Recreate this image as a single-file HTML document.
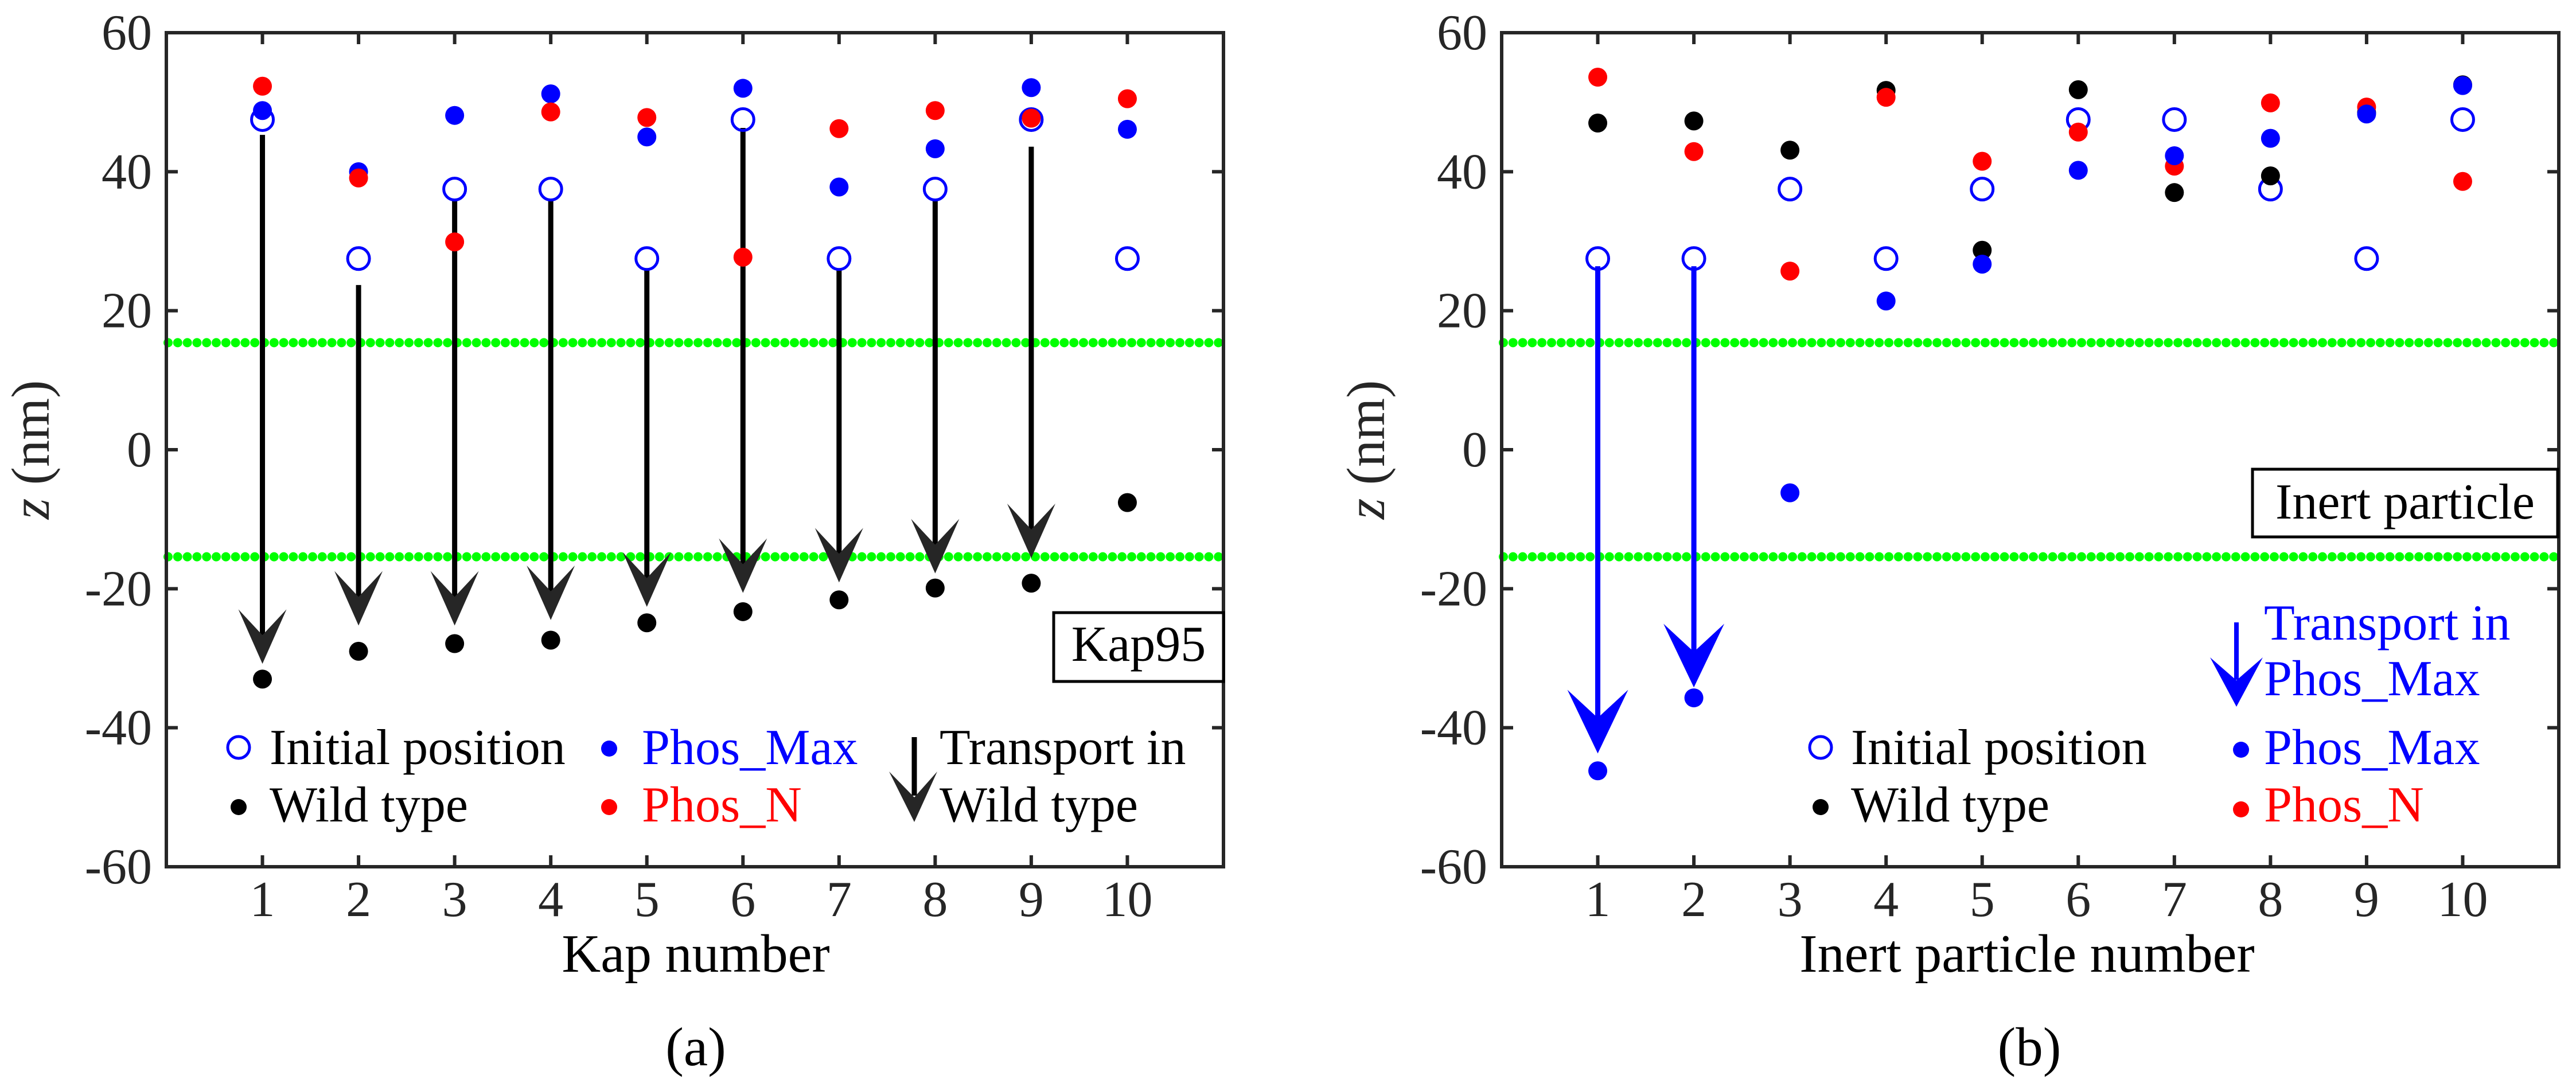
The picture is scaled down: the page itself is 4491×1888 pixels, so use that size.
<!DOCTYPE html>
<html><head><meta charset="utf-8"><style>
html,body{margin:0;padding:0;background:#fff;}
svg{display:block;}
svg text{font-family:"Liberation Serif","DejaVu Serif",serif;}
</style></head><body>
<svg id="fig" width="4491" height="1888" viewBox="0 0 4491 1888" xmlns="http://www.w3.org/2000/svg" font-family="Liberation Serif, serif">
<rect x="0" y="0" width="4491" height="1888" fill="#fff"/>
<g id="pa"></g>
<g id="pb"></g>
</svg>
<script>
const NS="http://www.w3.org/2000/svg";
const particleIds=[1,2,3,4,5,6,7,8,9,10];
const yTicks=[60,40,20,0,-20,-40,-60];
const yTickLabels=["60","40","20","0","-20","-40","-60"];
const xTickLabels=["1","2","3","4","5","6","7","8","9","10"];
const poreBounds=[15.4,-15.4];
// Panel (a) Kap95
const kapInitial=[47.5,27.5,37.5,37.5,27.5,47.5,27.5,37.5,47.5,27.5];
const kapPhosMax=[48.8,40,48.1,51.2,45,52,37.8,43.3,52.1,46.1];
const kapPhosN=[52.3,39.1,29.9,48.6,47.8,27.7,46.2,48.8,47.7,50.5];
const kapWild=[-33,-29,-27.9,-27.4,-24.9,-23.3,-21.6,-19.9,-19.2,-7.6];
const kapArrowIds=[1,2,3,4,5,6,7,8,9];
const kapArrowStart=[45.3,23.7,35.8,35.8,25.9,46.3,25.9,35.8,43.6];
const kapArrowEnd=[-30.8,-25.3,-25.3,-24.5,-22.6,-20.6,-19.1,-17.8,-15.6];
// Panel (b) Inert
const inInitial=[27.5,27.5,37.5,27.5,37.5,47.5,47.5,37.5,27.5,47.5];
const inWild=[47,47.3,43.1,51.7,28.7,51.8,37,39.4,48.5,52.5];
const inPhosMax=[-46.2,-35.7,-6.2,21.4,26.7,40.2,42.3,44.8,48.3,52.4];
const inPhosN=[53.6,42.9,25.7,50.7,41.5,45.7,40.8,49.9,49.3,38.6];
const inArrowIds=[1,2];
const inArrowStart=[26.4,26.4];
const inArrowEnd=[-43.7,-34.2];

function el(parent,tag,attrs,text){const e=document.createElementNS(NS,tag);for(const k in attrs)e.setAttribute(k,attrs[k]);if(tag==="text")e.setAttribute("font-family","Liberation Serif, serif");if(text!==undefined)e.textContent=text;parent.appendChild(e);return e;}

function makePanel(g,L,R,opts){
  const T=57,B=1511;
  const xs=v=>L+(v/11)*(R-L);
  const ys=v=>T+(60-v)/120*(B-T);
  const ax="#262626";
  poreBounds.forEach((b,i)=>{
    const gg=el(g,"g",{});
    
    
    for(let x=L+3;x<=R+2;x+=16.8){el(gg,"circle",{cx:x,cy:ys(b),r:8,fill:"#00ff00"});}
  });
  const arrG=el(g,"g",{});
  
  
  opts.arrIds.forEach((id,i)=>{
    const x=xs(id),y0=ys(opts.arrStart[i]),y1=ys(opts.arrEnd[i]);
    const hw=opts.hw,hh=opts.hh,nt=opts.nt;
    const a=el(arrG,"g",{});
    
    
    el(a,"line",{x1:x,y1:y0,x2:x,y2:y1-nt,stroke:opts.arrColor,"stroke-width":9});
    el(a,"polygon",{points:`${x},${y1} ${x-hw},${y1-hh} ${x},${y1-nt} ${x+hw},${y1-hh}`,fill:opts.headColor});
  });
  function dots(vals,fill,name){
    const s=el(g,"g",{});
    
    
    vals.forEach((v,i)=>{
      const c=el(s,"circle",{cx:xs(particleIds[i]),cy:ys(v),r:16.5,fill:fill});
      
      
    });
  }
  function rings(vals,name){
    const s=el(g,"g",{});
    
    
    vals.forEach((v,i)=>{
      const c=el(s,"circle",{cx:xs(particleIds[i]),cy:ys(v),r:19,fill:"none",stroke:"#0000ff","stroke-width":5});
      
      
    });
  }
  opts.series.forEach(s=>{ if(s.ring) rings(s.vals,s.name); else dots(s.vals,s.color,s.name); });
  const axG=el(g,"g",{});
  
  
  el(axG,"rect",{x:L,y:T,width:R-L,height:B-T,fill:"none",stroke:ax,"stroke-width":6});
  yTicks.forEach((t,i)=>{
    const y=ys(t);
    el(axG,"line",{x1:L,y1:y,x2:L+20,y2:y,stroke:ax,"stroke-width":6});
    el(axG,"line",{x1:R,y1:y,x2:R-20,y2:y,stroke:ax,"stroke-width":6});
    const tx=el(axG,"text",{x:L-25,y:y+29,"text-anchor":"end","font-size":88,fill:ax},yTickLabels[i]);
    
    
  });
  particleIds.forEach((p,i)=>{
    const x=xs(p);
    el(axG,"line",{x1:x,y1:B,x2:x,y2:B-20,stroke:ax,"stroke-width":6});
    el(axG,"line",{x1:x,y1:T,x2:x,y2:T+20,stroke:ax,"stroke-width":6});
    const tx=el(axG,"text",{x:x,y:1597,"text-anchor":"middle","font-size":88,fill:ax},xTickLabels[i]);
    
    
  });
}

const pa=document.getElementById("pa"), pb=document.getElementById("pb");
makePanel(pa,290,2133,{arrIds:kapArrowIds,arrStart:kapArrowStart,arrEnd:kapArrowEnd,hw:42,hh:95,nt:50,arrColor:"#000",headColor:"#262626",
  series:[{ring:true,vals:kapInitial,name:"initial-position-series"},{vals:kapPhosMax,color:"#0000ff",name:"phos-max-series"},{vals:kapPhosN,color:"#ff0000",name:"phos-n-series"},{vals:kapWild,color:"#000",name:"wild-type-series"}]});
makePanel(pb,2618,4461,{arrIds:inArrowIds,arrStart:inArrowStart,arrEnd:inArrowEnd,hw:53,hh:111,nt:62,arrColor:"#0000ff",headColor:"#0000ff",
  series:[{ring:true,vals:inInitial,name:"initial-position-series"},{vals:inWild,color:"#000",name:"wild-type-series"},{vals:inPhosN,color:"#ff0000",name:"phos-n-series"},{vals:inPhosMax,color:"#0000ff",name:"phos-max-series"}]});
</script>
<script>
(function(){
const svg=document.getElementById("fig");
function t(x,y,s,txt,opts,name){const e=document.createElementNS("http://www.w3.org/2000/svg","text");e.setAttribute("x",x);e.setAttribute("y",y);e.setAttribute("font-size",s);e.setAttribute("font-family","Liberation Serif, serif");for(const k in (opts||{}))e.setAttribute(k,opts[k]);e.textContent=txt;


svg.appendChild(e);return e;}
function s(tag,attrs,name){const e=document.createElementNS("http://www.w3.org/2000/svg",tag);for(const k in attrs)e.setAttribute(k,attrs[k]);


svg.appendChild(e);return e;}
t(1213,1694,94,"Kap number",{"text-anchor":"middle",fill:"#000"},"x-axis-title-a");
t(1213,1857,95,"(a)",{"text-anchor":"middle",fill:"#000"},"panel-label-a");
const ya=t(0,0,94,"",{"text-anchor":"middle",fill:"#262626",transform:"translate(85,784) rotate(-90)"},"y-axis-title-a");
ya.innerHTML='<tspan font-style="italic">z</tspan> (nm)';
const yb=t(0,0,94,"",{"text-anchor":"middle",fill:"#262626",transform:"translate(2413,784) rotate(-90)"},"y-axis-title-b");
yb.innerHTML='<tspan font-style="italic">z</tspan> (nm)';
s("rect",{x:1837,y:1068,width:296,height:120,fill:"#fff",stroke:"#000","stroke-width":5},"kap95-label-box");
t(1985,1152,88,"Kap95",{"text-anchor":"middle",fill:"#000"},"kap95-label");
s("circle",{cx:416,cy:1303,r:19,fill:"none",stroke:"#0000ff","stroke-width":5},"legend-initial-marker");
t(470,1332,88,"Initial position",{fill:"#000"},"legend-initial-text");
s("circle",{cx:416,cy:1407,r:14,fill:"#000"},"legend-wild-marker");
t(470,1432,88,"Wild type",{fill:"#000"},"legend-wild-text");
s("circle",{cx:1062,cy:1305,r:14,fill:"#0000ff"},"legend-phosmax-marker");
t(1119,1332,88,"Phos_Max",{fill:"#0000ff"},"legend-phosmax-text");
s("circle",{cx:1062,cy:1407,r:14,fill:"#ff0000"},"legend-phosn-marker");
t(1119,1432,88,"Phos_N",{fill:"#ff0000"},"legend-phosn-text");
s("line",{x1:1594,y1:1285,x2:1594,y2:1387,stroke:"#000","stroke-width":9},"legend-arrow-shaft");
s("polygon",{points:"1594,1433 1550,1345 1594,1390 1634,1345",fill:"#262626"},"legend-arrow-head");
t(1638,1332,88,"Transport in",{fill:"#000"},"legend-transport-text");
t(1638,1432,88,"Wild type",{fill:"#000"},"legend-transport-text-2");
t(3534,1694,94,"Inert particle number",{"text-anchor":"middle",fill:"#000"},"x-axis-title-b");
t(3538,1857,95,"(b)",{"text-anchor":"middle",fill:"#000"},"panel-label-b");
s("rect",{x:3927,y:818,width:532,height:118,fill:"#fff",stroke:"#000","stroke-width":5},"inert-label-box");
t(4193,904,88,"Inert particle",{"text-anchor":"middle",fill:"#000"},"inert-label");
s("circle",{cx:3174,cy:1303,r:19,fill:"none",stroke:"#0000ff","stroke-width":5},"legend-b-initial-marker");
t(3227,1332,88,"Initial position",{fill:"#000"},"legend-b-initial-text");
s("circle",{cx:3174,cy:1407,r:14,fill:"#000"},"legend-b-wild-marker");
t(3227,1432,88,"Wild type",{fill:"#000"},"legend-b-wild-text");
s("circle",{cx:3907,cy:1307,r:14,fill:"#0000ff"},"legend-b-phosmax-marker");
t(3947,1332,88,"Phos_Max",{fill:"#0000ff"},"legend-b-phosmax-text");
s("circle",{cx:3907,cy:1411,r:14,fill:"#ff0000"},"legend-b-phosn-marker");
t(3947,1432,88,"Phos_N",{fill:"#ff0000"},"legend-b-phosn-text");
s("line",{x1:3899,y1:1085,x2:3899,y2:1185,stroke:"#0000ff","stroke-width":8},"legend-b-arrow-shaft");
s("polygon",{points:"3899,1232 3853,1146 3899,1186 3945,1146",fill:"#0000ff"},"legend-b-arrow-head");
t(3947,1115,88,"Transport in",{fill:"#0000ff"},"legend-b-transport-text");
t(3947,1212,88,"Phos_Max",{fill:"#0000ff"},"legend-b-transport-text-2");
})();
</script>
</body></html>
